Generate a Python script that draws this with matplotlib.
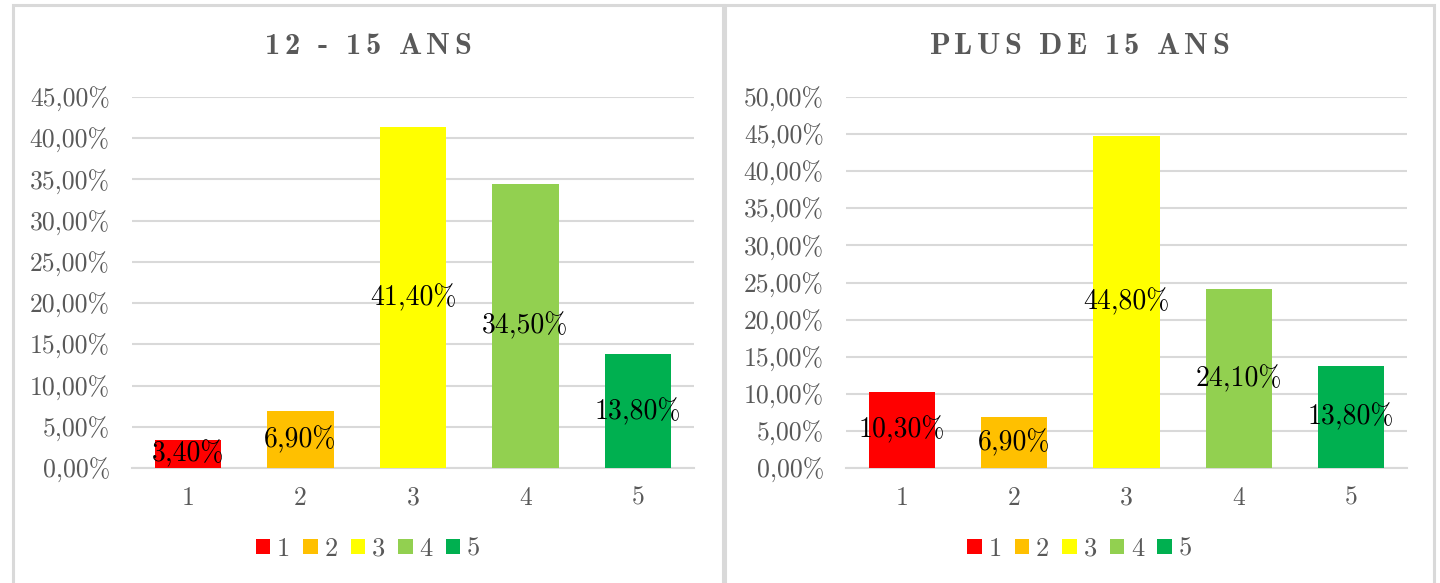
import numpy as np
import matplotlib
matplotlib.use('Agg')
import matplotlib.pyplot as plt
from matplotlib.patches import Rectangle, Patch
from matplotlib.ticker import FuncFormatter, MultipleLocator

# data
categories = ['1', '2', '3', '4', '5']
young_values = [0.034, 0.069, 0.414, 0.345, 0.138]
older_values = [0.103, 0.069, 0.448, 0.241, 0.138]
titles = ['12 - 15 ANS', 'PLUS DE 15 ANS']
colors = ['#FF0000', '#FFC000', '#FFFF00', '#92D050', '#00B050']

plt.rcParams['font.family'] = ['cmr10', 'DejaVu Serif']
plt.rcParams['axes.formatter.use_mathtext'] = True

grey = '#595959'
grid_col = '#D9D9D9'


def pct(v, pos=None):
    return f"{v * 100:.2f}%".replace('.', ',')


fig = plt.figure(figsize=(14.4, 5.83), dpi=100)
W, H = 1440, 583

# panel frames
for x0, x1 in [(13, 723), (725, 1434)]:
    fig.patches.append(Rectangle((x0 / W, -0.05), (x1 - x0) / W, 1 - 5 / H + 0.05,
                                 transform=fig.transFigure, fill=False,
                                 edgecolor=grid_col, linewidth=2.2))

panels = [
    (young_values, 0.45, (132, 694), (13, 723), titles[0]),
    (older_values, 0.50, (846, 1407), (725, 1434), titles[1]),
]

for vals, ymax, (ax0, ax1), (p0, p1), title in panels:
    ax = fig.add_axes([ax0 / W, 1 - 468 / H, (ax1 - ax0) / W, (468 - 97) / H])
    x = np.arange(1, len(categories) + 1)
    ax.bar(x, vals, width=0.59, color=colors, zorder=3)
    for xi, v in zip(x, vals):
        ax.text(xi, v / 2, pct(v), ha='center', va='center',
                fontsize=20, color='black', zorder=4)
    ax.set_xlim(0.5, len(categories) + 0.5)
    ax.set_ylim(0, ymax)
    ax.yaxis.set_major_locator(MultipleLocator(0.05))
    ax.yaxis.set_major_formatter(FuncFormatter(pct))
    ax.set_xticks(x)
    ax.set_xticklabels(categories)
    ax.grid(axis='y', color=grid_col, linewidth=1.5, zorder=0)
    for s in ['top', 'right', 'left']:
        ax.spines[s].set_visible(False)
    ax.spines['bottom'].set_color(grid_col)
    ax.spines['bottom'].set_linewidth(1.5)
    ax.tick_params(axis='both', length=0, colors=grey, labelsize=18.5)
    ax.tick_params(axis='x', pad=13)
    ax.tick_params(axis='y', pad=16)

    cx = (p0 + p1) / 2 / W
    # title with a bit of letter spacing, one char at a time
    spacing = 4.0  # px between chars
    fs = 22
    tmp = [fig.text(0, 0, ch, fontsize=fs, fontweight='bold',
                    family=['cmb10', 'DejaVu Serif']) for ch in title]
    fig.canvas.draw()
    r = fig.canvas.get_renderer()
    widths = [t.get_window_extent(r).width if ch != ' ' else fs * 100 / 72 * 0.33
              for t, ch in zip(tmp, title)]
    for t in tmp:
        t.remove()
    total = sum(widths) + spacing * (len(title) - 1)
    xpos = cx * W - total / 2
    for ch, w in zip(title, widths):
        fig.text(xpos / W, 1 - 46 / H, ch, ha='left', va='center', fontsize=fs,
                 fontweight='bold', family=['cmb10', 'DejaVu Serif'], color=grey)
        xpos += w + spacing

    handles = [Patch(facecolor=c, label=l) for c, l in zip(colors, categories)]
    fig.legend(handles=handles, loc='center', bbox_to_anchor=(cx, 1 - 549 / H),
               ncol=5, frameon=False, fontsize=19, labelcolor=grey,
               handlelength=0.55, handleheight=0.55, handletextpad=0.25,
               columnspacing=0.5, borderpad=0)

fig.savefig('out.png', dpi=100)
